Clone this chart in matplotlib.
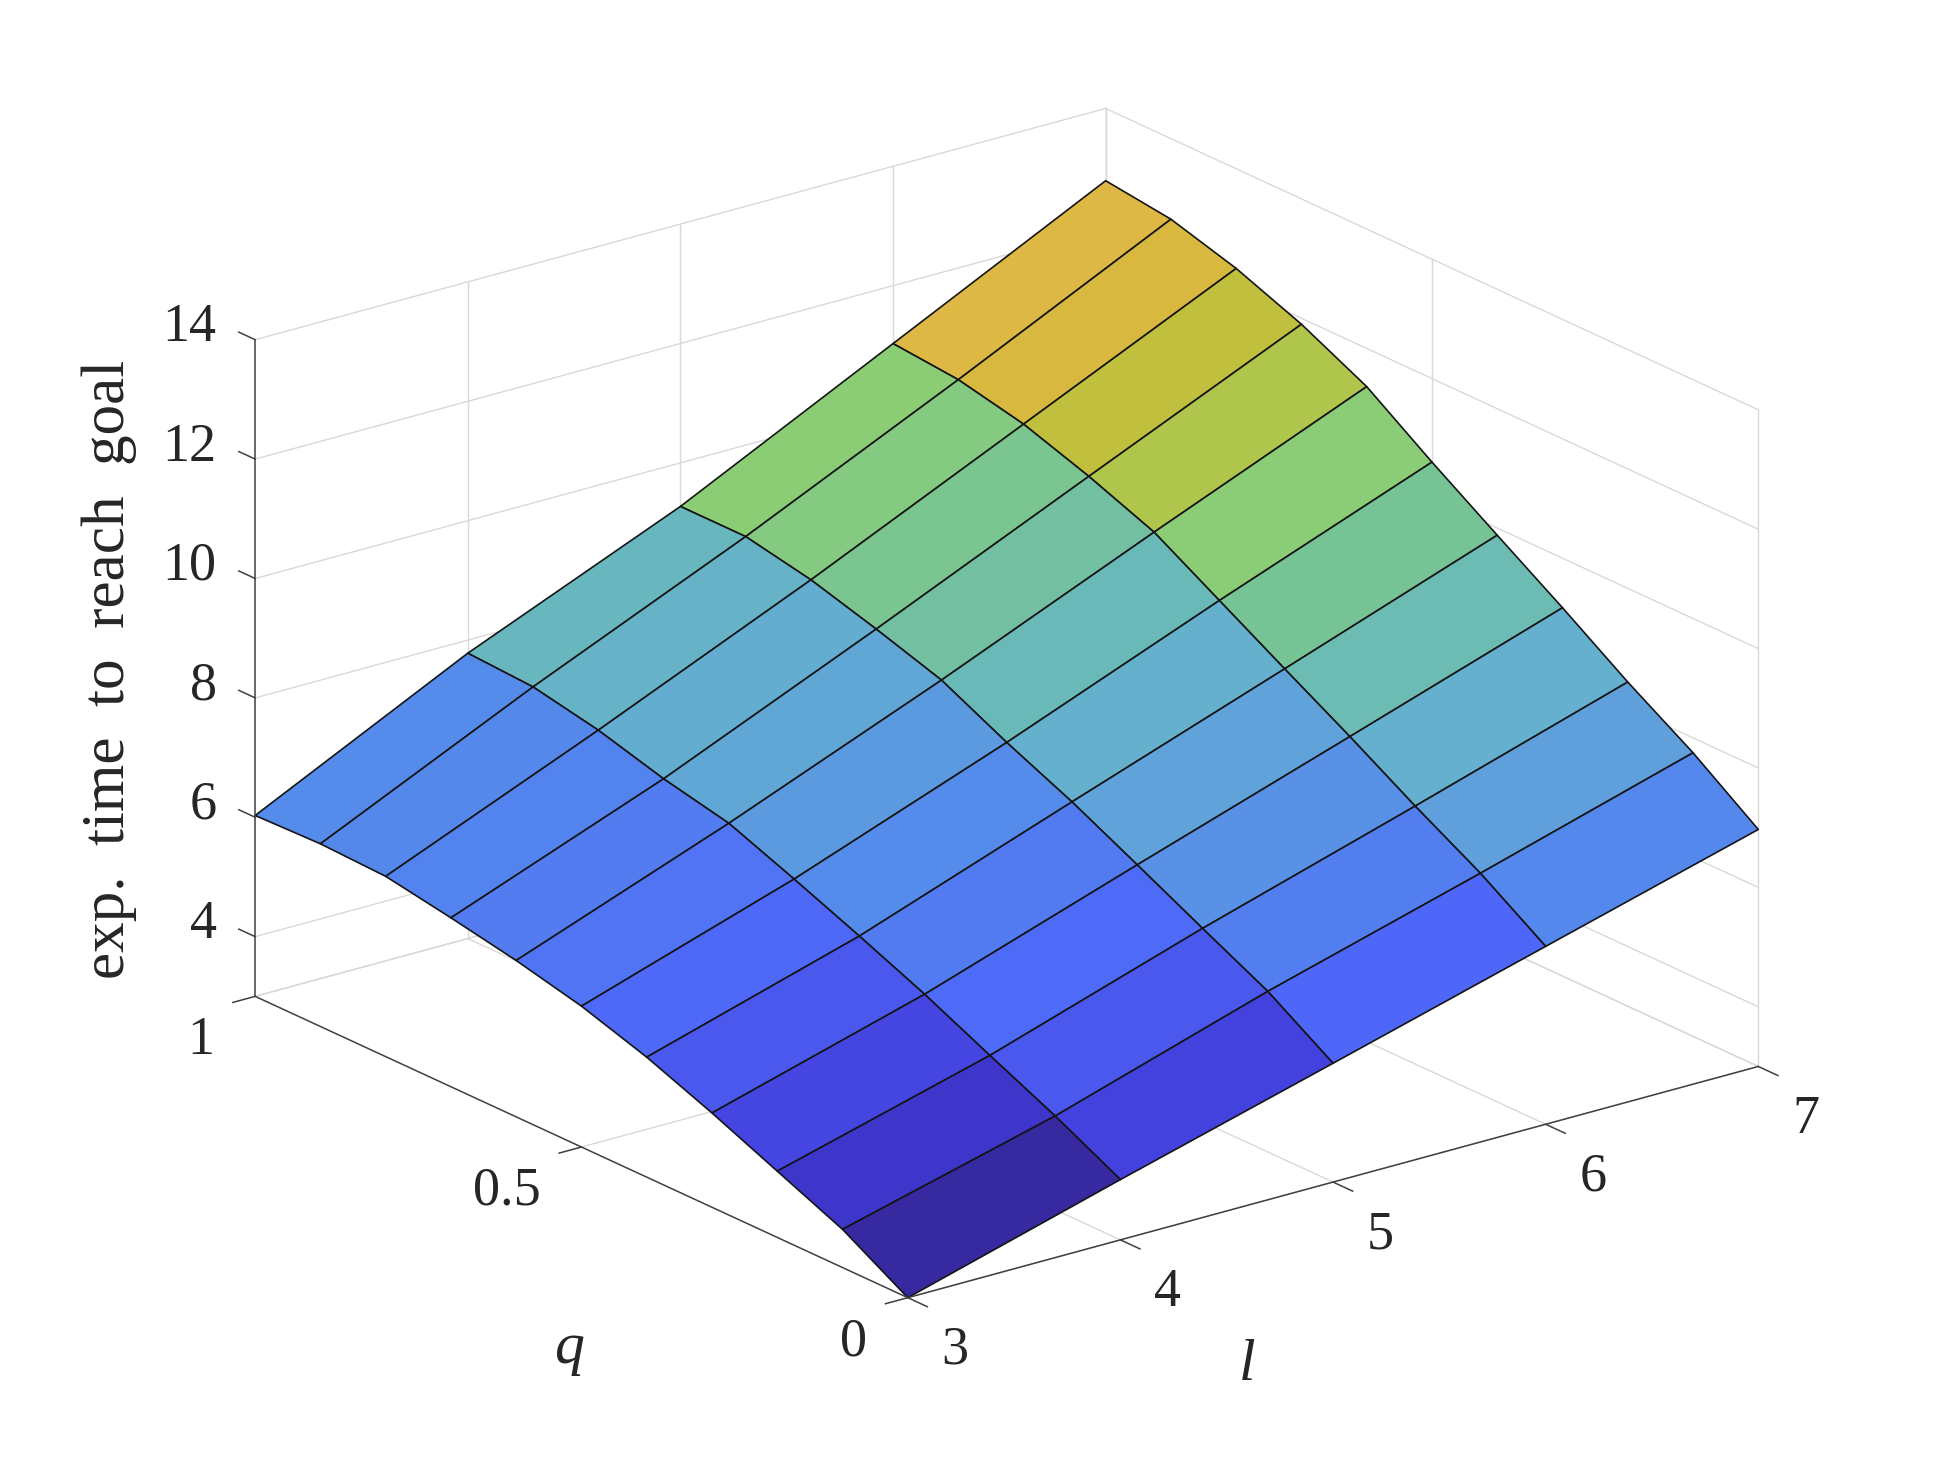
import matplotlib
matplotlib.use('Agg')
import matplotlib.pyplot as plt
from matplotlib.colors import LinearSegmentedColormap, Normalize
from mpl_toolkits.mplot3d import proj3d
import numpy as np

plt.rcParams['font.family'] = ['Liberation Serif', 'DejaVu Serif']

# Data
l_vals = [3, 4, 5, 6, 7]
q_vals = [0, 0.1, 0.2, 0.3, 0.4, 0.5, 0.6, 0.7, 0.8, 0.9, 1]
z_l3 = [3.00, 3.64, 4.11, 4.58, 5.01, 5.36, 5.62, 5.83, 6.02, 6.06, 6.03]
z_l4 = [4.01, 4.57, 5.08, 5.60, 6.07, 6.52, 6.95, 7.19, 7.50, 7.72, 7.78]
z_l5 = [4.99, 5.69, 6.24, 6.80, 7.35, 7.84, 8.38, 8.73, 9.05, 9.27, 9.27]
z_l6 = [5.98, 6.70, 7.32, 7.98, 8.61, 9.25, 9.89, 10.32, 10.69, 10.93, 11.03]
z_l7 = [6.97, 7.75, 8.43, 9.17, 9.88, 10.60, 11.36, 11.90, 12.33, 12.65, 12.79]

l_ticks = [3, 4, 5, 6, 7]
q_ticks = [0, 0.5, 1]
q_ticklabels = ['0', '0.5', '1']
z_ticks = [4, 6, 8, 10, 12, 14]

# colour of a face against its first corner value
color_z = [3, 3.64, 4, 5, 5.98, 6.7, 7.32, 7.98, 8.61, 9.25, 9.89, 10.32, 10.69, 10.93]
color_rgb = [(55, 41, 160), (62, 54, 203), (68, 66, 222), (78, 104, 248), (84, 136, 236),
             (95, 160, 220), (100, 176, 206), (108, 188, 180), (118, 195, 150), (138, 205, 118),
             (176, 197, 75), (192, 192, 62), (216, 184, 62), (222, 184, 68)]

norm = Normalize(color_z[0], color_z[-1])
cmap = LinearSegmentedColormap.from_list(
    'surf', [(norm(z), tuple(c / 255 for c in rgb)) for z, rgb in zip(color_z, color_rgb)], N=512)

L, Q = np.meshgrid(l_vals, q_vals)
Z = np.column_stack([z_l3, z_l4, z_l5, z_l6, z_l7])

fig = plt.figure(figsize=(19.44, 14.58), dpi=100)
ax = fig.add_axes([173.8 / 1944, -78 / 1458, 1622 / 1944, 1622 / 1458], projection='3d',
                  computed_zorder=False)
ax.set_proj_type('ortho')
ax.view_init(elev=20.75, azim=-127.5)
ax.set_box_aspect((1, 1, 0.655))
ax.set_xlim(3, 7, view_margin=0)
ax.set_ylim(0, 1, view_margin=0)
ax.set_zlim(3, 14, view_margin=0)
ax.set_axis_off()

grid_kw = dict(color='#d9d9d9', lw=1.0, zorder=1)
axis_kw = dict(color='#404040', lw=1.1, zorder=3)
text_kw = dict(fontsize=39, color='#262626', va='center')
zmin, zmax = 3, 14


def tick_label(l, q, z, s, ha):
    # 2D text at the projected place of a data point
    x, y, _ = proj3d.proj_transform(l, q, z, ax.get_proj())
    ax.text2D(x, y, s, transform=ax.transData, ha=ha, **text_kw)


# grid on the floor and the two back walls
for l in l_ticks[1:]:
    ax.plot([l, l], [0, 1], [zmin, zmin], **grid_kw)
    ax.plot([l, l], [1, 1], [zmin, zmax], **grid_kw)
for q in q_ticks:
    ax.plot([3, 7], [q, q], [zmin, zmin], **grid_kw)
    ax.plot([7, 7], [q, q], [zmin, zmax], **grid_kw)
for z in [zmin] + z_ticks:
    ax.plot([3, 7], [1, 1], [z, z], **grid_kw)
    ax.plot([7, 7], [0, 1], [z, z], **grid_kw)

ax.plot_surface(L, Q, Z, rstride=1, cstride=1, facecolors=cmap(norm(Z)), shade=False,
                edgecolor='#141414', linewidth=1.2, antialiased=True, zorder=2)

# axis lines and ticks
ax.plot([3, 3], [1, 1], [zmin, zmax], **axis_kw)
ax.plot([3, 3], [0, 1], [zmin, zmin], **axis_kw)
ax.plot([3, 7], [0, 0], [zmin, zmin], **axis_kw)
for z in z_ticks:
    ax.plot([3, 3], [1, 1.025], [z, z], **axis_kw)
    tick_label(3, 1.059, z - 0.1, str(z), 'right')
for q, lab in zip(q_ticks, q_ticklabels):
    ax.plot([3, 2.895], [q, q], [zmin, zmin], **axis_kw)
    tick_label(2.808, q, zmin - 0.56, lab, 'right')
for l in l_ticks:
    ax.plot([l, l], [0, -0.03], [zmin, zmin], **axis_kw)
    tick_label(l, -0.0725, zmin - 0.52, str(l), 'center')

fig.text(88 / 1568, 1 - 540 / 1176, 'exp.  time  to  reach  goal', rotation=90, ha='center', va='center',
         fontsize=44, color='#262626')
fig.text(459 / 1568, 1 - 1088 / 1176, 'q', style='italic', ha='center', va='center',
         fontsize=43, color='#262626')
fig.text(1006 / 1568, 1 - 1102 / 1176, 'l', style='italic', ha='center', va='center',
         fontsize=43, color='#262626')

fig.savefig('out.png', dpi=100)
